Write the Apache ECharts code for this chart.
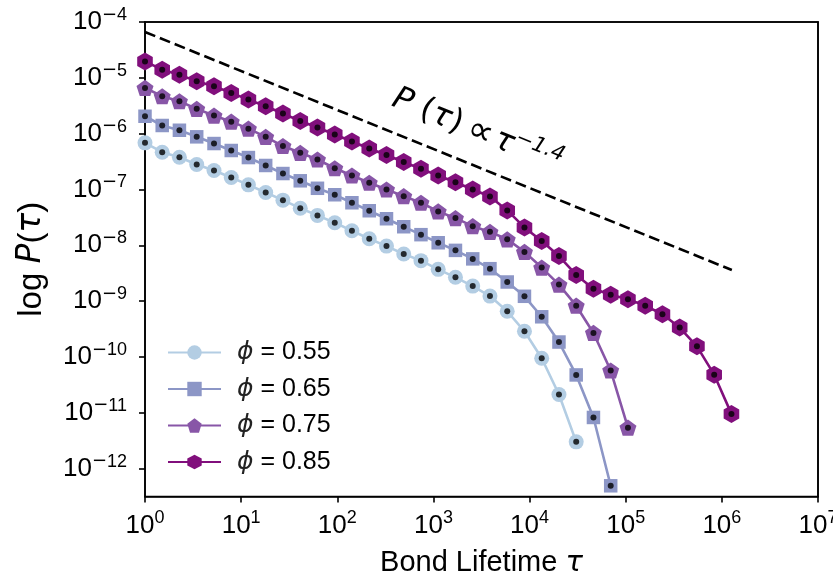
<!DOCTYPE html>
<html>
<head>
<meta charset="utf-8">
<script src="https://cdn.jsdelivr.net/npm/echarts@6/dist/echarts.min.js"></script>
<style>
  html, body { margin: 0; padding: 0; background: #ffffff; }
  #chart { width: 833px; height: 580px; }
</style>
</head>
<body>
<div id="chart"></div>
<script>
// Log-binned bond lifetimes (bin centres)
const tau = [1, 1.51, 2.28, 3.45, 5.22, 7.89, 11.9, 18.0, 27.2, 41.2, 62.2, 94.1, 142, 215, 325, 491,
  742, 1121, 1695, 2563, 3873, 5855, 8848, 13374, 20215, 30549, 46180, 69800, 105500, 159500,
  241000, 364200, 550600, 832200, 1258000];

const phiLabels = ['ϕ = 0.55', 'ϕ = 0.65', 'ϕ = 0.75', 'ϕ = 0.85'];

// Lifetime distributions P(tau), one list per packing fraction
const p055 = [6.84e-7, 4.65e-7, 3.78e-7, 2.80e-7, 2.19e-7, 1.64e-7, 1.21e-7, 8.83e-8, 6.44e-8, 4.62e-8,
  3.43e-8, 2.54e-8, 1.82e-8, 1.31e-8, 9.68e-9, 6.97e-9, 5.31e-9, 3.71e-9, 2.67e-9, 1.86e-9,
  1.23e-9, 6.58e-10, 2.88e-10, 9.48e-11, 2.12e-11, 3.01e-12];
const p065 = [2.05e-6, 1.40e-6, 1.15e-6, 8.77e-7, 6.65e-7, 4.99e-7, 3.73e-7, 2.69e-7, 1.93e-7, 1.43e-7,
  1.05e-7, 8.04e-8, 5.78e-8, 4.16e-8, 2.99e-8, 2.15e-8, 1.55e-8, 1.11e-8, 8.11e-9, 5.71e-9,
  3.81e-9, 2.20e-9, 1.22e-9, 5.24e-10, 1.85e-10, 4.76e-11, 8.24e-12, 4.92e-13];
const p075 = [6.59e-6, 4.67e-6, 3.80e-6, 2.78e-6, 2.11e-6, 1.64e-6, 1.23e-6, 8.77e-7, 6.00e-7, 4.54e-7,
  3.44e-7, 2.40e-7, 1.78e-7, 1.32e-7, 1.00e-7, 7.59e-8, 5.78e-8, 4.04e-8, 3.07e-8, 2.20e-8,
  1.74e-8, 1.28e-8, 7.62e-9, 3.99e-9, 1.98e-9, 8.28e-10, 2.69e-10, 5.71e-11, 5.41e-12];
const p085 = [1.97e-5, 1.40e-5, 1.14e-5, 8.65e-6, 7.05e-6, 5.37e-6, 4.07e-6, 3.09e-6, 2.29e-6, 1.68e-6,
  1.29e-6, 9.64e-7, 7.23e-7, 5.41e-7, 4.14e-7, 3.10e-7, 2.34e-7, 1.78e-7, 1.35e-7, 1.00e-7,
  7.50e-8, 4.21e-8, 2.09e-8, 1.19e-8, 6.41e-9, 2.95e-9, 1.67e-9, 1.30e-9, 1.08e-9, 8.30e-10,
  5.81e-10, 3.36e-10, 1.55e-10, 4.81e-11, 9.55e-12];

// Power-law guide line end points
const guideTau = [1, 1270000];
const guideP = [6.62e-5, 3.6e-9];

// Decade ticks
const xTicks = [1, 1e1, 1e2, 1e3, 1e4, 1e5, 1e6, 1e7];
const yTicks = [1e-12, 1e-11, 1e-10, 1e-9, 1e-8, 1e-7, 1e-6, 1e-5, 1e-4];

const X_MIN = 1, X_MAX = 1e7, Y_MIN = 3.1623e-13, Y_MAX = 1e-4;

const colors = ['#b3cde3', '#8c96c6', '#8856a7', '#810f7c'];
const PENTAGON = 'path://M0,-1L0.951,-0.309L0.588,0.809L-0.588,0.809L-0.951,-0.309Z';
const HEXAGON = 'path://M0,-1L0.866,-0.5L0.866,0.5L0,1L-0.866,0.5L-0.866,-0.5Z';
const symbols = ['circle', 'rect', PENTAGON, HEXAGON];
const symbolSizes = [15, 13.5, 17, 18];
const curves = [p055, p065, p075, p085];

// 10^n tick labels; the superscript minus uses a wider glyph
function powLabel(v) {
  const e = Math.round(Math.log10(v));
  return e < 0 ? '{b|10}{m|\u2212}{s|' + (-e) + '}' : '{b|10}{s|' + e + '}';
}
const tickRich = {
  b: { fontSize: 26, fontFamily: 'Liberation Sans', color: '#000', lineHeight: 32 },
  m: { fontSize: 18, fontFamily: 'DejaVu Sans', color: '#000', lineHeight: 18, verticalAlign: 'top' },
  s: { fontSize: 18, fontFamily: 'Liberation Sans', color: '#000', lineHeight: 18, verticalAlign: 'top' }
};
const frameLine = { show: true, onZero: false, lineStyle: { color: '#000', width: 1.6 } };

const series = [];
series.push({
  type: 'line',
  data: guideTau.map((t, i) => [t, guideP[i]]),
  showSymbol: false,
  symbol: 'none',
  silent: true,
  lineStyle: { color: '#000', width: 2.6, type: [11, 5] },
  z: 1
});
curves.forEach((vals, k) => {
  const pts = vals.map((v, i) => [tau[i], v]);
  series.push({
    name: phiLabels[k],
    type: 'line',
    data: pts,
    symbol: symbols[k],
    symbolSize: symbolSizes[k],
    symbolKeepAspect: true,
    showAllSymbol: true,
    color: colors[k],
    itemStyle: { color: colors[k] },
    lineStyle: { color: colors[k], width: 2.6 },
    z: 2 + k
  });
  series.push({
    type: 'scatter',
    data: pts,
    symbol: 'circle',
    symbolSize: 6,
    silent: true,
    itemStyle: { color: '#000' },
    z: 10
  });
});

const chart = echarts.init(document.getElementById('chart'), null, { renderer: 'canvas' });
chart.setOption({
  animation: false,
  backgroundColor: '#ffffff',
  grid: {
    left: 145, top: 22, width: 673, height: 474.5,
    outerBoundsMode: 'none',
    containLabel: false,
    show: true, borderColor: '#000', borderWidth: 1.6, backgroundColor: 'transparent'
  },
  legend: {
    data: phiLabels,
    orient: 'vertical',
    left: 167,
    top: 340,
    padding: 0,
    itemGap: 11.5,
    itemWidth: 53,
    itemHeight: 18,
    formatter: name => '{g|ϕ}{t|' + name.slice(1) + '}',
    textStyle: {
      padding: [0, 0, 0, 11],
      rich: {
        g: { fontSize: 25, fontFamily: 'DejaVu Sans', fontStyle: 'italic', color: '#222', lineHeight: 26 },
        t: { fontSize: 25, fontFamily: 'Liberation Sans', color: '#000', lineHeight: 26 }
      }
    }
  },
  xAxis: [{
    type: 'log',
    logBase: 10,
    min: X_MIN,
    max: X_MAX,
    name: 'Bond Lifetime {t|τ}',
    nameLocation: 'middle',
    nameGap: 52,
    nameTextStyle: {
      fontSize: 29, fontFamily: 'Liberation Sans', color: '#000',
      rich: { t: { fontSize: 29, fontFamily: 'DejaVu Sans', fontStyle: 'italic', color: '#000' } }
    },
    axisLine: frameLine,
    axisTick: { show: true, inside: false, length: 6, customValues: xTicks, lineStyle: { color: '#000', width: 1.6 } },
    minorTick: { show: false },
    splitLine: { show: false },
    axisLabel: { customValues: xTicks, formatter: powLabel, rich: tickRich, margin: 13 }
  }, {
    // top spine
    type: 'log', logBase: 10, min: X_MIN, max: X_MAX, position: 'top',
    axisLine: frameLine, axisTick: { show: false }, axisLabel: { show: false },
    minorTick: { show: false }, splitLine: { show: false }
  }],
  yAxis: [{
    type: 'log',
    logBase: 10,
    min: Y_MIN,
    max: Y_MAX,
    name: '{r|log }{i|P}{r|(}{i|τ}{r|)}',
    nameLocation: 'middle',
    nameGap: 97,
    nameTextStyle: {
      rich: {
        r: { fontSize: 33, fontFamily: 'Liberation Sans', color: '#000' },
        i: { fontSize: 33, fontFamily: 'DejaVu Sans', fontStyle: 'italic', color: '#000' }
      }
    },
    axisLine: frameLine,
    axisTick: { show: true, inside: false, length: 6, customValues: yTicks, lineStyle: { color: '#000', width: 1.6 } },
    minorTick: { show: false },
    splitLine: { show: false },
    axisLabel: { customValues: yTicks, formatter: powLabel, rich: tickRich, margin: 18 }
  }, {
    // right spine
    type: 'log', logBase: 10, min: Y_MIN, max: Y_MAX, position: 'right',
    axisLine: frameLine, axisTick: { show: false }, axisLabel: { show: false },
    minorTick: { show: false }, splitLine: { show: false }
  }],
  graphic: [{
    type: 'text',
    x: 386,
    y: 116,
    rotation: -0.386,
    silent: true,
    style: {
      text: '{i|P}{r| (}{i|τ}{r|)}  {p|∝} {i|τ}{m|−}{s|1.4}',
      align: 'left',
      verticalAlign: 'bottom',
      rich: {
        i: { fontSize: 32, fontFamily: 'DejaVu Sans', fontStyle: 'italic', fill: '#000', lineHeight: 40 },
        r: { fontSize: 32, fontFamily: 'DejaVu Sans', fill: '#000', lineHeight: 40 },
        p: { fontSize: 36, fontFamily: 'DejaVu Sans', fill: '#000', lineHeight: 40 },
        m: { fontSize: 21, fontFamily: 'DejaVu Sans', fill: '#000', lineHeight: 24, verticalAlign: 'top' },
        s: { fontSize: 21, fontFamily: 'DejaVu Sans', fontStyle: 'italic', fill: '#000', lineHeight: 24, verticalAlign: 'top' }
      }
    }
  }],
  series: series
});
</script>
</body>
</html>
